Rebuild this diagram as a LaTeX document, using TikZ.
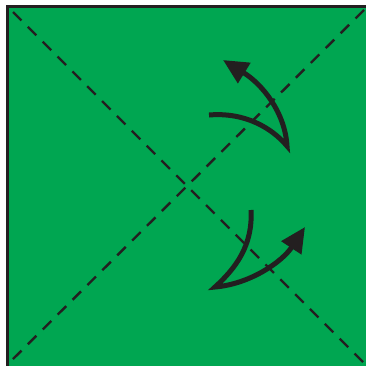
\documentclass[tikz,border=0pt]{standalone}
\usepackage{tikz}
\usetikzlibrary{arrows.meta}

\definecolor{papergreen}{HTML}{00A651}
\definecolor{inkdark}{HTML}{231F20}

\begin{document}
\begin{tikzpicture}[x=1pt, y=-1pt,
    fold/.style={inkdark, line width=2.4pt, dash pattern=on 12pt off 9pt},
    turn/.style={inkdark, line width=5pt, line join=miter,
                 -{Triangle[length=25pt, width=23pt]}}]
    \useasboundingbox (0,0) rectangle (366,365);
    % paper square
    \fill[papergreen] (7,6) rectangle (370,370);
    \draw[inkdark, line width=3pt] (7,370) -- (7,6) -- (370,6);
    % fold lines
    \coordinate (tl) at (13,12);
    \coordinate (br) at (366,365);
    \coordinate (tr) at (364,10);
    \coordinate (bl) at (9,363);
    \draw[fold] (tl) -- (br);
    \draw[fold] (tr) -- (bl);
    % upper turning arrow
    \coordinate (ua) at (209,115);
    \coordinate (uc) at (287,146);
    \coordinate (ut) at (223,60);
    \draw[turn] (ua) .. controls (245,112) and (272,128) .. (uc)
        .. controls (285,112) and (262,84) .. (ut);
    % lower turning arrow
    \coordinate (la) at (251,210);
    \coordinate (lc) at (215,287);
    \coordinate (lt) at (305,227);
    \draw[turn] (la) .. controls (253,245) and (236,268) .. (lc)
        .. controls (250,284) and (282,262) .. (lt);
\end{tikzpicture}
\end{document}
